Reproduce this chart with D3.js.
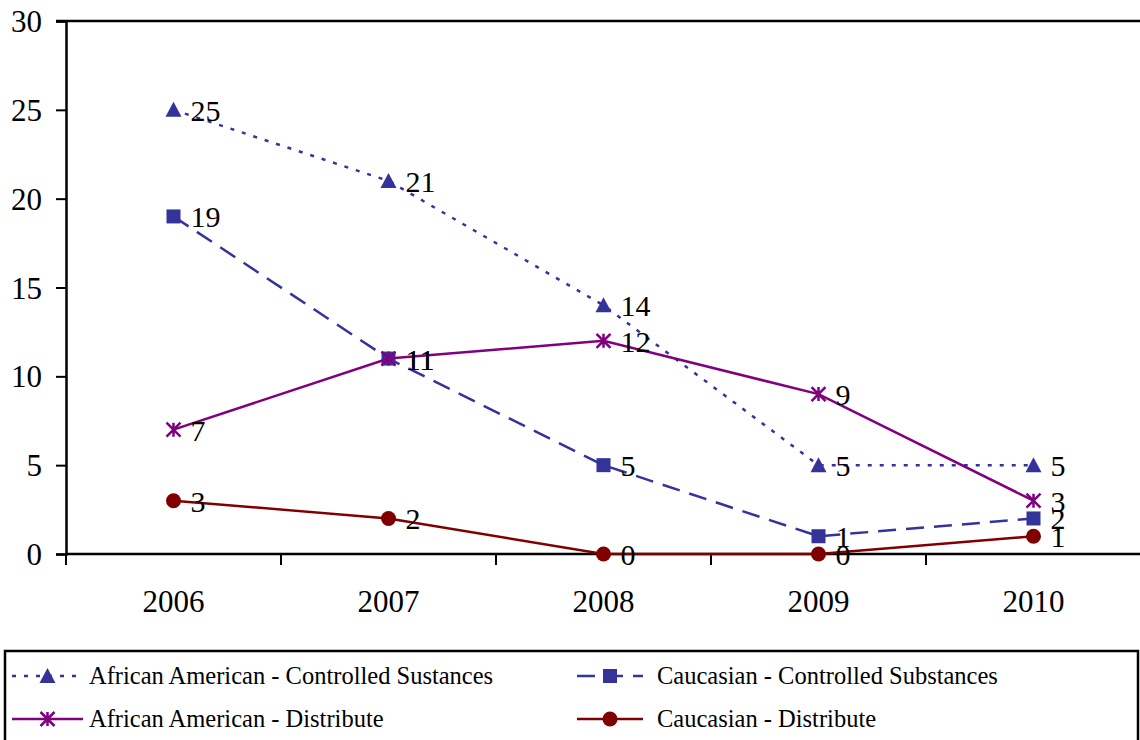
<!DOCTYPE html>
<html>
<head>
<meta charset="utf-8">
<script src="https://cdn.jsdelivr.net/npm/d3@7"></script>
<style>
  body { margin: 0; background: #fff; }
</style>
</head>
<body>
<div id="chart"></div>
<script>
// data
const years = ["2006", "2007", "2008", "2009", "2010"];
const aaControlled = [25, 21, 14, 5, 5];
const cControlled = [19, 11, 5, 1, 2];
const aaDistribute = [7, 11, 12, 9, 3];
const cDistribute = [3, 2, 0, 0, 1];
const yTicks = [0, 5, 10, 15, 20, 25, 30];

const seriesNames = [
  "African American - Controlled Sustances",
  "Caucasian - Controlled Substances",
  "African American - Distribute",
  "Caucasian - Distribute"
];

const series = [
  {name: seriesNames[0], values: aaControlled, color: "#333399", dash: "4,8", marker: "triangle"},
  {name: seriesNames[1], values: cControlled, color: "#333399", dash: "18,10", marker: "square"},
  {name: seriesNames[2], values: aaDistribute, color: "#800080", dash: null, marker: "star"},
  {name: seriesNames[3], values: cDistribute, color: "#800000", dash: null, marker: "circle"}
];

const FONT = "'Liberation Serif', 'Times New Roman', Times, 'DejaVu Serif', serif";

const W = 1140, H = 740;
const plot = {left: 66, right: 1141, top: 21, bottom: 554};

const svg = d3.select("#chart").append("svg")
  .attr("width", W).attr("height", H);

const x = d3.scaleBand().domain(years).range([plot.left, plot.right]).padding(0);
const xc = d => x(d) + x.bandwidth() / 2;
const y = d3.scaleLinear().domain([0, 30]).range([plot.bottom, plot.top]);

// top border of plot area
svg.append("line")
  .attr("x1", plot.left - 10).attr("x2", W)
  .attr("y1", y(30)).attr("y2", y(30))
  .attr("stroke", "#000").attr("stroke-width", 2.5);

// y axis
const yAxis = svg.append("g").attr("transform", `translate(${plot.left},0)`)
  .call(d3.axisLeft(y).tickValues(yTicks).tickSize(10).tickPadding(14).tickFormat(d3.format("d")));
yAxis.select(".domain").attr("stroke", "#000").attr("stroke-width", 2.5);
yAxis.selectAll(".tick line").attr("stroke", "#000").attr("stroke-width", 2);
yAxis.selectAll("text").style("font-family", FONT).style("font-size", "31px")
  .attr("fill", "#000").attr("dy", "0.34em");

// x axis with ticks between categories
const xAxisG = svg.append("g").attr("transform", `translate(0,${plot.bottom})`);
xAxisG.append("line").attr("x1", plot.left).attr("x2", W)
  .attr("stroke", "#000").attr("stroke-width", 2.5);
const boundaries = years.map(d => x(d));
xAxisG.selectAll(".xt").data(boundaries).join("line")
  .attr("x1", d => d).attr("x2", d => d).attr("y1", 0).attr("y2", 11)
  .attr("stroke", "#000").attr("stroke-width", 2);
xAxisG.selectAll(".xl").data(years).join("text")
  .attr("x", d => xc(d)).attr("y", 58)
  .attr("text-anchor", "middle")
  .style("font-family", FONT).style("font-size", "31px").text(d => d);

function drawMarker(g, type, cx, cy, color) {
  if (type === "triangle") {
    g.append("path")
      .attr("d", `M${cx},${cy - 8}L${cx + 8},${cy + 7}L${cx - 8},${cy + 7}Z`)
      .attr("fill", color);
  } else if (type === "square") {
    g.append("rect").attr("x", cx - 7).attr("y", cy - 7)
      .attr("width", 14).attr("height", 14).attr("fill", color);
  } else if (type === "circle") {
    g.append("circle").attr("cx", cx).attr("cy", cy).attr("r", 7.5).attr("fill", color);
  } else if (type === "star") {
    const r = 7;
    g.append("path")
      .attr("d", `M${cx - r},${cy - r}L${cx + r},${cy + r}M${cx - r},${cy + r}L${cx + r},${cy - r}M${cx},${cy - r}L${cx},${cy + r}`)
      .attr("stroke", color).attr("stroke-width", 2.5).attr("fill", "none");
  }
}

const line = d3.line().x((d, i) => xc(years[i])).y(d => y(d));

series.forEach(s => {
  const g = svg.append("g");
  g.append("path").datum(s.values)
    .attr("d", line)
    .attr("fill", "none")
    .attr("stroke", s.color)
    .attr("stroke-width", 2.5)
    .attr("stroke-dasharray", s.dash);
  s.values.forEach((v, i) => drawMarker(g, s.marker, xc(years[i]), y(v), s.color));
});

// data labels
series.forEach(s => {
  svg.append("g").selectAll("text").data(s.values).join("text")
    .attr("x", (d, i) => xc(years[i]) + 17)
    .attr("y", d => y(d) + 11)
    .style("font-family", FONT).style("font-size", "30px").attr("fill", "#000")
    .text(d => d);
});

// legend
const legend = svg.append("g");
legend.append("rect").attr("x", 5).attr("y", 651).attr("width", 1133).attr("height", 100)
  .attr("fill", "none").attr("stroke", "#000").attr("stroke-width", 2.5);

const legendPos = [
  {x: 12, y: 676, tx: 89},
  {x: 577, y: 676, tx: 657},
  {x: 12, y: 719, tx: 89},
  {x: 577, y: 719, tx: 657}
];
series.forEach((s, i) => {
  const p = legendPos[i];
  const lg = legend.append("g");
  const lineLen = i % 2 === 0 ? 71 : 66;
  lg.append("line").attr("x1", p.x).attr("x2", p.x + lineLen)
    .attr("y1", p.y).attr("y2", p.y)
    .attr("stroke", s.color).attr("stroke-width", 2.5)
    .attr("stroke-dasharray", s.dash);
  drawMarker(lg, s.marker, p.x + lineLen / 2, p.y, s.color);
  lg.append("text").attr("x", p.tx).attr("y", p.y + 8)
    .style("font-family", FONT).style("font-size", "24.5px").attr("fill", "#000").text(s.name);
});
</script>
</body>
</html>
